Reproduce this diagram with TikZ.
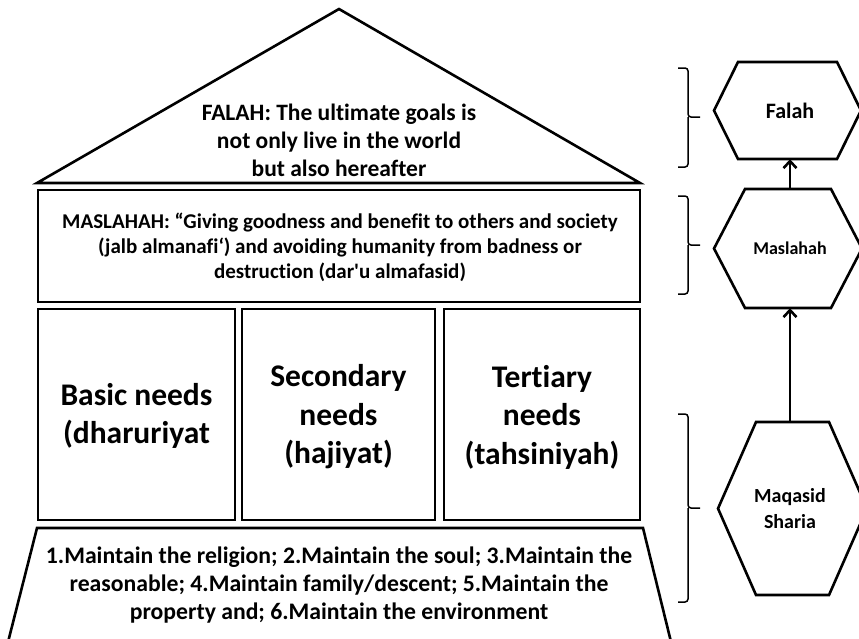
\documentclass[tikz,border=0pt]{standalone}
\usepackage{fontspec}
\setmainfont{Carlito}[Ligatures={TeX,NoCommon}]
\usetikzlibrary{arrows.meta}
\begin{document}
\begin{tikzpicture}[x=1pt,y=-1pt,
  shapeline/.style={line width=2.6pt, line join=miter},
  braceline/.style={line width=1.5pt, rounded corners=3pt},
  lbl/.style={align=center, inner sep=0pt},
  roofft/.style={font=\fontsize{23.5}{28}\selectfont\bfseries},
  maslft/.style={font=\fontsize{21}{25}\selectfont\bfseries},
  needft/.style={font=\fontsize{31.5}{38.5}\selectfont\bfseries},
  baseft/.style={font=\fontsize{23.7}{28}\selectfont\bfseries},
  hexlbl/.style={align=center, inner sep=0pt, minimum width=60pt},
  conn/.style={line width=2.6pt, -{Straight Barb[length=7pt,width=13pt,line width=2.6pt]}},
]
\useasboundingbox (0,0) rectangle (859,638);
\clip (0,0) rectangle (859,638);

% roof
\draw[shapeline] (37,183) -- (339,9) -- (640,183) -- cycle;
\node[lbl, roofft] (rooftxt) at (339,140) {FALAH: The ultimate goals is\\not only live in the world\\but also hereafter};

% maslahah beam
\draw[shapeline] (38,190) rectangle (640,302);
\node[lbl, maslft] (masltxt) at (340,247) {MASLAHAH: “Giving goodness and benefit to others and society\\(jalb almanafi‘) and avoiding humanity from badness or\\destruction (dar\textquotesingle u almafasid)};

% pillars
\draw[shapeline] (38,309) rectangle (235,520);
\node[lbl, needft] (basic) at (136.5,416) {Basic needs\\(dharuriyat};
\draw[shapeline] (242,309) rectangle (435,520);
\node[lbl, needft] (secondary) at (338.5,417) {Secondary\\needs\\(hajiyat)};
\draw[shapeline] (444,309) rectangle (640,520);
\node[lbl, needft] (tertiary) at (542,417) {Tertiary\\needs\\(tahsiniyah)};

% foundation
\draw[shapeline] (6,650) -- (37,528) -- (643,528) -- (673,650);
\node[lbl, baseft] (basetxt) at (339,585) {1.Maintain the religion; 2.Maintain the soul; 3.Maintain the\\reasonable; 4.Maintain family/descent; 5.Maintain the\\property and; 6.Maintain the environment};

% hexagons
\draw[shapeline] (714,110.5) -- (738,62) -- (837,62) -- (861,110.5) -- (837,159) -- (738,159) -- cycle;
\node[hexlbl, minimum height=97pt, font=\fontsize{22}{26}\selectfont\bfseries] (falah) at (790,110.5) {Falah};
\draw[shapeline] (714,248.5) -- (745,189) -- (831,189) -- (862,248.5) -- (831,308) -- (745,308) -- cycle;
\node[hexlbl, minimum height=119pt, font=\fontsize{18}{22}\selectfont\bfseries] (maslahah) at (790,248.5) {Maslahah};
\draw[shapeline] (718,508.5) -- (756,422) -- (829,422) -- (867,508.5) -- (829,595) -- (756,595) -- cycle;
\node[hexlbl, minimum height=173pt, font=\fontsize{20}{26}\selectfont\bfseries] (maqasid) at (790,508.5) {Maqasid\\Sharia};

% connectors
\draw[conn] (maqasid.north) -- (maslahah.south);
\draw[conn] (maslahah.north) -- (falah.south);

% braces
\coordinate (b1) at (700,117);
\draw[braceline] (678,68) -| (688,117) -- (b1);
\draw[braceline] (678,167) -| (688,117);
\coordinate (b2) at (700,245);
\draw[braceline] (678,196) -| (688,245) -- (b2);
\draw[braceline] (678,294) -| (688,245);
\coordinate (b3) at (700,508);
\draw[braceline] (678,414) -| (688,508) -- (b3);
\draw[braceline] (678,602) -| (688,508);
\end{tikzpicture}
\end{document}
